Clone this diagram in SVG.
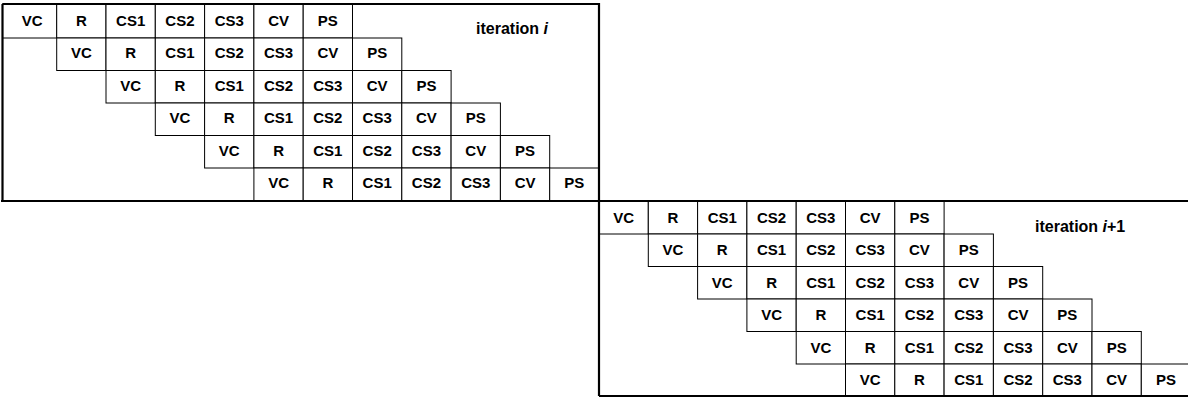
<svg xmlns="http://www.w3.org/2000/svg" width="1188" height="397" viewBox="0 0 1188 397">
<style>
.c{fill:#fff;stroke:#000;stroke-width:1}
.t{font-family:"Liberation Sans",Arial,sans-serif;font-weight:bold;font-size:15px;text-anchor:middle;fill:#000}
.it{font-family:"Liberation Sans",Arial,sans-serif;font-weight:bold;font-size:16px;fill:#000}
.f{fill:none;stroke:#000;stroke-width:2.2}
</style>
<rect width="1188" height="397" fill="#fff"/>
<g id="iteration-i">
<g id="t1-row0">
<rect class="c" x="2.5" y="4" width="54.2" height="34"/><rect class="c" x="56.7" y="4" width="49.3" height="34"/><rect class="c" x="106" y="4" width="49.3" height="34"/><rect class="c" x="155.3" y="4" width="49.3" height="34"/><rect class="c" x="204.6" y="4" width="49.3" height="34"/><rect class="c" x="253.9" y="4" width="49.3" height="34"/><rect class="c" x="303.2" y="4" width="49.3" height="34"/>
<text class="t" y="25.5"><tspan x="32.05">VC</tspan><tspan x="81.35">R</tspan><tspan x="130.65">CS1</tspan><tspan x="179.95">CS2</tspan><tspan x="229.25">CS3</tspan><tspan x="278.55">CV</tspan><tspan x="327.85">PS</tspan></text>
</g>
<g id="t1-row1">
<rect class="c" x="56.7" y="38" width="49.3" height="32.5"/><rect class="c" x="106" y="38" width="49.3" height="32.5"/><rect class="c" x="155.3" y="38" width="49.3" height="32.5"/><rect class="c" x="204.6" y="38" width="49.3" height="32.5"/><rect class="c" x="253.9" y="38" width="49.3" height="32.5"/><rect class="c" x="303.2" y="38" width="49.3" height="32.5"/><rect class="c" x="352.5" y="38" width="49.3" height="32.5"/>
<text class="t" y="58"><tspan x="81.35">VC</tspan><tspan x="130.65">R</tspan><tspan x="179.95">CS1</tspan><tspan x="229.25">CS2</tspan><tspan x="278.55">CS3</tspan><tspan x="327.85">CV</tspan><tspan x="377.15">PS</tspan></text>
</g>
<g id="t1-row2">
<rect class="c" x="106" y="70.5" width="49.3" height="32.5"/><rect class="c" x="155.3" y="70.5" width="49.3" height="32.5"/><rect class="c" x="204.6" y="70.5" width="49.3" height="32.5"/><rect class="c" x="253.9" y="70.5" width="49.3" height="32.5"/><rect class="c" x="303.2" y="70.5" width="49.3" height="32.5"/><rect class="c" x="352.5" y="70.5" width="49.3" height="32.5"/><rect class="c" x="401.8" y="70.5" width="49.3" height="32.5"/>
<text class="t" y="90.5"><tspan x="130.65">VC</tspan><tspan x="179.95">R</tspan><tspan x="229.25">CS1</tspan><tspan x="278.55">CS2</tspan><tspan x="327.85">CS3</tspan><tspan x="377.15">CV</tspan><tspan x="426.45">PS</tspan></text>
</g>
<g id="t1-row3">
<rect class="c" x="155.3" y="103" width="49.3" height="32.5"/><rect class="c" x="204.6" y="103" width="49.3" height="32.5"/><rect class="c" x="253.9" y="103" width="49.3" height="32.5"/><rect class="c" x="303.2" y="103" width="49.3" height="32.5"/><rect class="c" x="352.5" y="103" width="49.3" height="32.5"/><rect class="c" x="401.8" y="103" width="49.3" height="32.5"/><rect class="c" x="451.1" y="103" width="49.3" height="32.5"/>
<text class="t" y="123"><tspan x="179.95">VC</tspan><tspan x="229.25">R</tspan><tspan x="278.55">CS1</tspan><tspan x="327.85">CS2</tspan><tspan x="377.15">CS3</tspan><tspan x="426.45">CV</tspan><tspan x="475.75">PS</tspan></text>
</g>
<g id="t1-row4">
<rect class="c" x="204.6" y="135.5" width="49.3" height="32.5"/><rect class="c" x="253.9" y="135.5" width="49.3" height="32.5"/><rect class="c" x="303.2" y="135.5" width="49.3" height="32.5"/><rect class="c" x="352.5" y="135.5" width="49.3" height="32.5"/><rect class="c" x="401.8" y="135.5" width="49.3" height="32.5"/><rect class="c" x="451.1" y="135.5" width="49.3" height="32.5"/><rect class="c" x="500.4" y="135.5" width="49.3" height="32.5"/>
<text class="t" y="155.5"><tspan x="229.25">VC</tspan><tspan x="278.55">R</tspan><tspan x="327.85">CS1</tspan><tspan x="377.15">CS2</tspan><tspan x="426.45">CS3</tspan><tspan x="475.75">CV</tspan><tspan x="525.05">PS</tspan></text>
</g>
<g id="t1-row5">
<rect class="c" x="253.9" y="168" width="49.3" height="32.5"/><rect class="c" x="303.2" y="168" width="49.3" height="32.5"/><rect class="c" x="352.5" y="168" width="49.3" height="32.5"/><rect class="c" x="401.8" y="168" width="49.3" height="32.5"/><rect class="c" x="451.1" y="168" width="49.3" height="32.5"/><rect class="c" x="500.4" y="168" width="49.3" height="32.5"/><rect class="c" x="549.7" y="168" width="49.3" height="32.5"/>
<text class="t" y="188"><tspan x="278.55">VC</tspan><tspan x="327.85">R</tspan><tspan x="377.15">CS1</tspan><tspan x="426.45">CS2</tspan><tspan x="475.75">CS3</tspan><tspan x="525.05">CV</tspan><tspan x="574.35">PS</tspan></text>
</g>
<text class="it" x="476" y="34">iteration <tspan font-style="italic">i</tspan></text>
</g>
<g id="iteration-i-plus-1">
<g id="t2-row0">
<rect class="c" x="599" y="201.5" width="49.3" height="32.5"/><rect class="c" x="648.3" y="201.5" width="49.3" height="32.5"/><rect class="c" x="697.6" y="201.5" width="49.3" height="32.5"/><rect class="c" x="746.9" y="201.5" width="49.3" height="32.5"/><rect class="c" x="796.2" y="201.5" width="49.3" height="32.5"/><rect class="c" x="845.5" y="201.5" width="49.3" height="32.5"/><rect class="c" x="894.8" y="201.5" width="49.3" height="32.5"/>
<text class="t" y="222.5"><tspan x="623.65">VC</tspan><tspan x="672.95">R</tspan><tspan x="722.25">CS1</tspan><tspan x="771.55">CS2</tspan><tspan x="820.85">CS3</tspan><tspan x="870.15">CV</tspan><tspan x="919.45">PS</tspan></text>
</g>
<g id="t2-row1">
<rect class="c" x="648.3" y="234" width="49.3" height="32.5"/><rect class="c" x="697.6" y="234" width="49.3" height="32.5"/><rect class="c" x="746.9" y="234" width="49.3" height="32.5"/><rect class="c" x="796.2" y="234" width="49.3" height="32.5"/><rect class="c" x="845.5" y="234" width="49.3" height="32.5"/><rect class="c" x="894.8" y="234" width="49.3" height="32.5"/><rect class="c" x="944.1" y="234" width="49.3" height="32.5"/>
<text class="t" y="255"><tspan x="672.95">VC</tspan><tspan x="722.25">R</tspan><tspan x="771.55">CS1</tspan><tspan x="820.85">CS2</tspan><tspan x="870.15">CS3</tspan><tspan x="919.45">CV</tspan><tspan x="968.75">PS</tspan></text>
</g>
<g id="t2-row2">
<rect class="c" x="697.6" y="266.5" width="49.3" height="32.5"/><rect class="c" x="746.9" y="266.5" width="49.3" height="32.5"/><rect class="c" x="796.2" y="266.5" width="49.3" height="32.5"/><rect class="c" x="845.5" y="266.5" width="49.3" height="32.5"/><rect class="c" x="894.8" y="266.5" width="49.3" height="32.5"/><rect class="c" x="944.1" y="266.5" width="49.3" height="32.5"/><rect class="c" x="993.4" y="266.5" width="49.3" height="32.5"/>
<text class="t" y="287.5"><tspan x="722.25">VC</tspan><tspan x="771.55">R</tspan><tspan x="820.85">CS1</tspan><tspan x="870.15">CS2</tspan><tspan x="919.45">CS3</tspan><tspan x="968.75">CV</tspan><tspan x="1018.05">PS</tspan></text>
</g>
<g id="t2-row3">
<rect class="c" x="746.9" y="299" width="49.3" height="32.5"/><rect class="c" x="796.2" y="299" width="49.3" height="32.5"/><rect class="c" x="845.5" y="299" width="49.3" height="32.5"/><rect class="c" x="894.8" y="299" width="49.3" height="32.5"/><rect class="c" x="944.1" y="299" width="49.3" height="32.5"/><rect class="c" x="993.4" y="299" width="49.3" height="32.5"/><rect class="c" x="1042.7" y="299" width="49.3" height="32.5"/>
<text class="t" y="320"><tspan x="771.55">VC</tspan><tspan x="820.85">R</tspan><tspan x="870.15">CS1</tspan><tspan x="919.45">CS2</tspan><tspan x="968.75">CS3</tspan><tspan x="1018.05">CV</tspan><tspan x="1067.35">PS</tspan></text>
</g>
<g id="t2-row4">
<rect class="c" x="796.2" y="331.5" width="49.3" height="32.5"/><rect class="c" x="845.5" y="331.5" width="49.3" height="32.5"/><rect class="c" x="894.8" y="331.5" width="49.3" height="32.5"/><rect class="c" x="944.1" y="331.5" width="49.3" height="32.5"/><rect class="c" x="993.4" y="331.5" width="49.3" height="32.5"/><rect class="c" x="1042.7" y="331.5" width="49.3" height="32.5"/><rect class="c" x="1092" y="331.5" width="49.3" height="32.5"/>
<text class="t" y="352.5"><tspan x="820.85">VC</tspan><tspan x="870.15">R</tspan><tspan x="919.45">CS1</tspan><tspan x="968.75">CS2</tspan><tspan x="1018.05">CS3</tspan><tspan x="1067.35">CV</tspan><tspan x="1116.65">PS</tspan></text>
</g>
<g id="t2-row5">
<rect class="c" x="845.5" y="364" width="49.3" height="32.5"/><rect class="c" x="894.8" y="364" width="49.3" height="32.5"/><rect class="c" x="944.1" y="364" width="49.3" height="32.5"/><rect class="c" x="993.4" y="364" width="49.3" height="32.5"/><rect class="c" x="1042.7" y="364" width="49.3" height="32.5"/><rect class="c" x="1092" y="364" width="49.3" height="32.5"/><rect class="c" x="1141.3" y="364" width="49.3" height="32.5"/>
<text class="t" y="385"><tspan x="870.15">VC</tspan><tspan x="919.45">R</tspan><tspan x="968.75">CS1</tspan><tspan x="1018.05">CS2</tspan><tspan x="1067.35">CS3</tspan><tspan x="1116.65">CV</tspan><tspan x="1165.95">PS</tspan></text>
</g>
<text class="it" x="1035" y="232">iteration <tspan font-style="italic">i</tspan>+1</text>
</g>
<g id="frames">
<path class="f" d="M2.5,4 H599 V396 M2.5,4 V201 M1,201 H1188 M599,396 H1188"/>
</g>
</svg>
